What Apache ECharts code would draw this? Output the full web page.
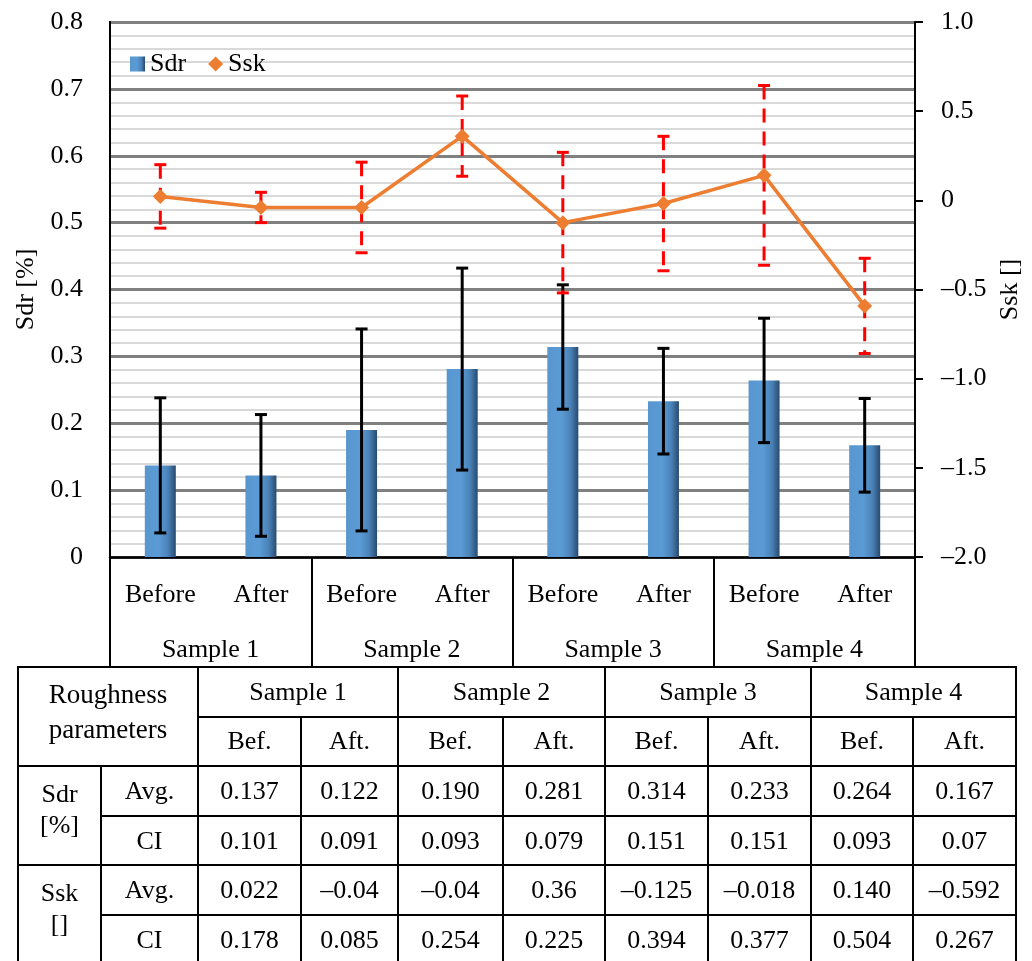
<!DOCTYPE html>
<html>
<head>
<meta charset="utf-8">
<script src="https://cdn.jsdelivr.net/npm/echarts@6/dist/echarts.min.js"></script>
<style>
  html, body { margin: 0; padding: 0; background: #fff; width: 1032px; height: 961px; overflow: hidden; }
  #chart { position: absolute; left: 0; top: 0; width: 1032px; height: 961px; }
  #tbl { position: absolute; left: 17px; top: 666px; border-collapse: collapse; table-layout: fixed;
         font-family: "Liberation Serif", serif; font-size: 26px; color: #000; }
  #tbl td { border: 2px solid #000; text-align: center; vertical-align: middle; padding: 0; height: 47.6px;
            white-space: nowrap; font-family: "Liberation Serif", serif; font-size: 26px; }
  #tbl td.hdr { line-height: 35px; padding-bottom: 10px; font-size: 27px; }
  #tbl td.grp { line-height: 31px; padding-bottom: 14px; }
</style>
</head>
<body>
<div id="chart"></div>
<table id="tbl"></table>
<script>
// ---------- data ----------
const sampleNames = ['Sample 1', 'Sample 2', 'Sample 3', 'Sample 4'];
const phaseLabels = ['Before', 'After'];
const phaseShort = ['Bef.', 'Aft.'];
const categories = ['Before', 'After', 'Before', 'After', 'Before', 'After', 'Before', 'After'];

// Chart values
const sdrAvg = [0.137, 0.122, 0.190, 0.281, 0.314, 0.233, 0.264, 0.167];
const sdrErrDrawn = [0.101, 0.091, 0.151, 0.151, 0.093, 0.079, 0.093, 0.07];
const sskAvg = [0.022, -0.04, -0.04, 0.36, -0.125, -0.018, 0.140, -0.592];
const sskCI = [0.178, 0.085, 0.254, 0.225, 0.394, 0.377, 0.504, 0.267];

// Table texts
const tblSdrAvg = ['0.137', '0.122', '0.190', '0.281', '0.314', '0.233', '0.264', '0.167'];
const tblSdrCI  = ['0.101', '0.091', '0.093', '0.079', '0.151', '0.151', '0.093', '0.07'];
const tblSskAvg = ['0.022', '\u20130.04', '\u20130.04', '0.36', '\u20130.125', '\u20130.018', '0.140', '\u20130.592'];
const tblSskCI  = ['0.178', '0.085', '0.254', '0.225', '0.394', '0.377', '0.504', '0.267'];

const leftTicks = { min: 0, max: 0.8, interval: 0.1 };
const rightTicks = { min: -2, max: 1, interval: 0.5 };

// ---------- table ----------
(function buildTable() {
  const widths = [83, 97, 103, 97, 105, 102, 103, 103, 102, 103];
  const t = document.getElementById('tbl');
  let h = '<colgroup>' + widths.map(w => '<col style="width:' + w + 'px">').join('') + '</colgroup>';
  h += '<tr><td class="hdr" rowspan="2" colspan="2">Roughness<br>parameters</td>' +
       sampleNames.map(s => '<td colspan="2">' + s + '</td>').join('') + '</tr>';
  h += '<tr>' + sampleNames.map(() => phaseShort.map(p => '<td>' + p + '</td>').join('')).join('') + '</tr>';
  const rowsOf = (arr) => arr.map(v => '<td>' + v + '</td>').join('');
  h += '<tr><td class="grp" rowspan="2">Sdr<br>[%]</td><td>Avg.</td>' + rowsOf(tblSdrAvg) + '</tr>';
  h += '<tr><td>CI</td>' + rowsOf(tblSdrCI) + '</tr>';
  h += '<tr><td class="grp" rowspan="2">Ssk<br>[]</td><td>Avg.</td>' + rowsOf(tblSskAvg) + '</tr>';
  h += '<tr><td>CI</td>' + rowsOf(tblSskCI) + '</tr>';
  t.innerHTML = h;
})();

// ---------- chart ----------
const FONT = '"Liberation Serif", serif';
const chart = echarts.init(document.getElementById('chart'), null, { renderer: 'canvas' });

function errorRenderer(color, width, dash, capW) {
  return function (params, api) {
    const i = api.value(0);
    const lo = api.coord([i, api.value(1)]);
    const hi = api.coord([i, api.value(2)]);
    const x = lo[0];
    return {
      type: 'group',
      children: [
        { type: 'line', shape: { x1: x, y1: hi[1], x2: x, y2: lo[1] },
          style: { stroke: color, lineWidth: width, lineDash: dash } },
        { type: 'line', shape: { x1: x - capW / 2, y1: hi[1], x2: x + capW / 2, y2: hi[1] },
          style: { stroke: color, lineWidth: width } },
        { type: 'line', shape: { x1: x - capW / 2, y1: lo[1], x2: x + capW / 2, y2: lo[1] },
          style: { stroke: color, lineWidth: width } }
      ]
    };
  };
}

const fmt = v => (Math.abs(v) < 1e-9 ? '0' : v.toFixed(1).replace('-', '\u2013'));

const option = {
  animation: false,
  textStyle: { fontFamily: FONT },
  grid: { left: 110, right: 117, top: 22, bottom: 404, show: true, borderColor: '#000', borderWidth: 2, backgroundColor: 'transparent' },
  legend: {
    data: [{ name: 'Sdr', icon: 'rect' }, { name: 'Ssk', icon: 'diamond' }],
    left: 125, top: 46,
    itemWidth: 15, itemHeight: 15, itemGap: 22,
    textStyle: { fontFamily: FONT, fontSize: 26, color: '#000' }
  },
  xAxis: [
    {
      type: 'category', data: categories, position: 'bottom', offset: 0,
      axisLine: { show: true, onZero: false, lineStyle: { color: '#000', width: 2.5 } },
      axisTick: { show: false },
      axisLabel: { fontFamily: FONT, fontSize: 26, color: '#000', margin: 25, interval: 0 },
      splitLine: { show: false }
    },
    {
      type: 'category', data: sampleNames, position: 'bottom', offset: 0,
      axisLine: { show: false, onZero: false },
      axisTick: { show: true, length: 109, inside: false, interval: 0, lineStyle: { color: '#000', width: 2 } },
      axisLabel: { fontFamily: FONT, fontSize: 26, color: '#000', margin: 80, interval: 0 },
      splitLine: { show: false }
    }
  ],
  yAxis: [
    {
      type: 'value', min: leftTicks.min, max: leftTicks.max, interval: leftTicks.interval, position: 'left',
      name: 'Sdr [%]', nameLocation: 'middle', nameGap: 62, nameRotate: 90,
      nameTextStyle: { fontFamily: FONT, fontSize: 26, color: '#000' },
      axisLine: { show: true, lineStyle: { color: '#000', width: 2 } },
      axisTick: { show: false },
      axisLabel: { fontFamily: FONT, fontSize: 26, color: '#000', margin: 27, formatter: fmt },
      splitLine: { show: true, lineStyle: { color: '#808080', width: 3 } },
      minorTick: { show: false, splitNumber: 5 },
      minorSplitLine: { show: true, lineStyle: { color: '#d9d9d9', width: 2 } }
    },
    {
      type: 'value', min: rightTicks.min, max: rightTicks.max, interval: rightTicks.interval, position: 'right',
      name: 'Ssk []', nameLocation: 'middle', nameGap: 71, nameRotate: 90,
      nameTextStyle: { fontFamily: FONT, fontSize: 26, color: '#000' },
      axisLine: { show: true, lineStyle: { color: '#000', width: 2 } },
      axisTick: { show: true, length: 8, lineStyle: { color: '#000', width: 2 } },
      axisLabel: { fontFamily: FONT, fontSize: 26, color: '#000', margin: 26, formatter: fmt },
      splitLine: { show: false }
    }
  ],
  series: [
    {
      name: 'Sdr', type: 'bar', xAxisIndex: 0, yAxisIndex: 0, barWidth: 31, z: 2,
      data: sdrAvg,
      itemStyle: {
        color: new echarts.graphic.LinearGradient(0, 0, 1, 0, [
          { offset: 0, color: '#5896cf' },
          { offset: 0.45, color: '#5b9bd5' },
          { offset: 0.75, color: '#4a82b8' },
          { offset: 1, color: '#284a6e' }
        ])
      }
    },
    {
      name: 'SdrErr', type: 'custom', xAxisIndex: 0, yAxisIndex: 0, z: 3,
      renderItem: errorRenderer('#000', 3, null, 12),
      encode: { x: 0, y: [1, 2] },
      data: sdrAvg.map((v, i) => [i, v - sdrErrDrawn[i], v + sdrErrDrawn[i]])
    },
    {
      name: 'SskErr', type: 'custom', xAxisIndex: 0, yAxisIndex: 1, z: 4,
      renderItem: errorRenderer('#ff0000', 3, [14, 9], 12),
      encode: { x: 0, y: [1, 2] },
      data: sskAvg.map((v, i) => [i, v - sskCI[i], v + sskCI[i]])
    },
    {
      name: 'Ssk', type: 'line', xAxisIndex: 0, yAxisIndex: 1, z: 5,
      data: sskAvg,
      symbol: 'diamond', symbolSize: 15,
      lineStyle: { color: '#ed7d31', width: 3.5 },
      itemStyle: { color: '#ed7d31' }
    }
  ]
};
chart.setOption(option);
</script>
</body>
</html>
